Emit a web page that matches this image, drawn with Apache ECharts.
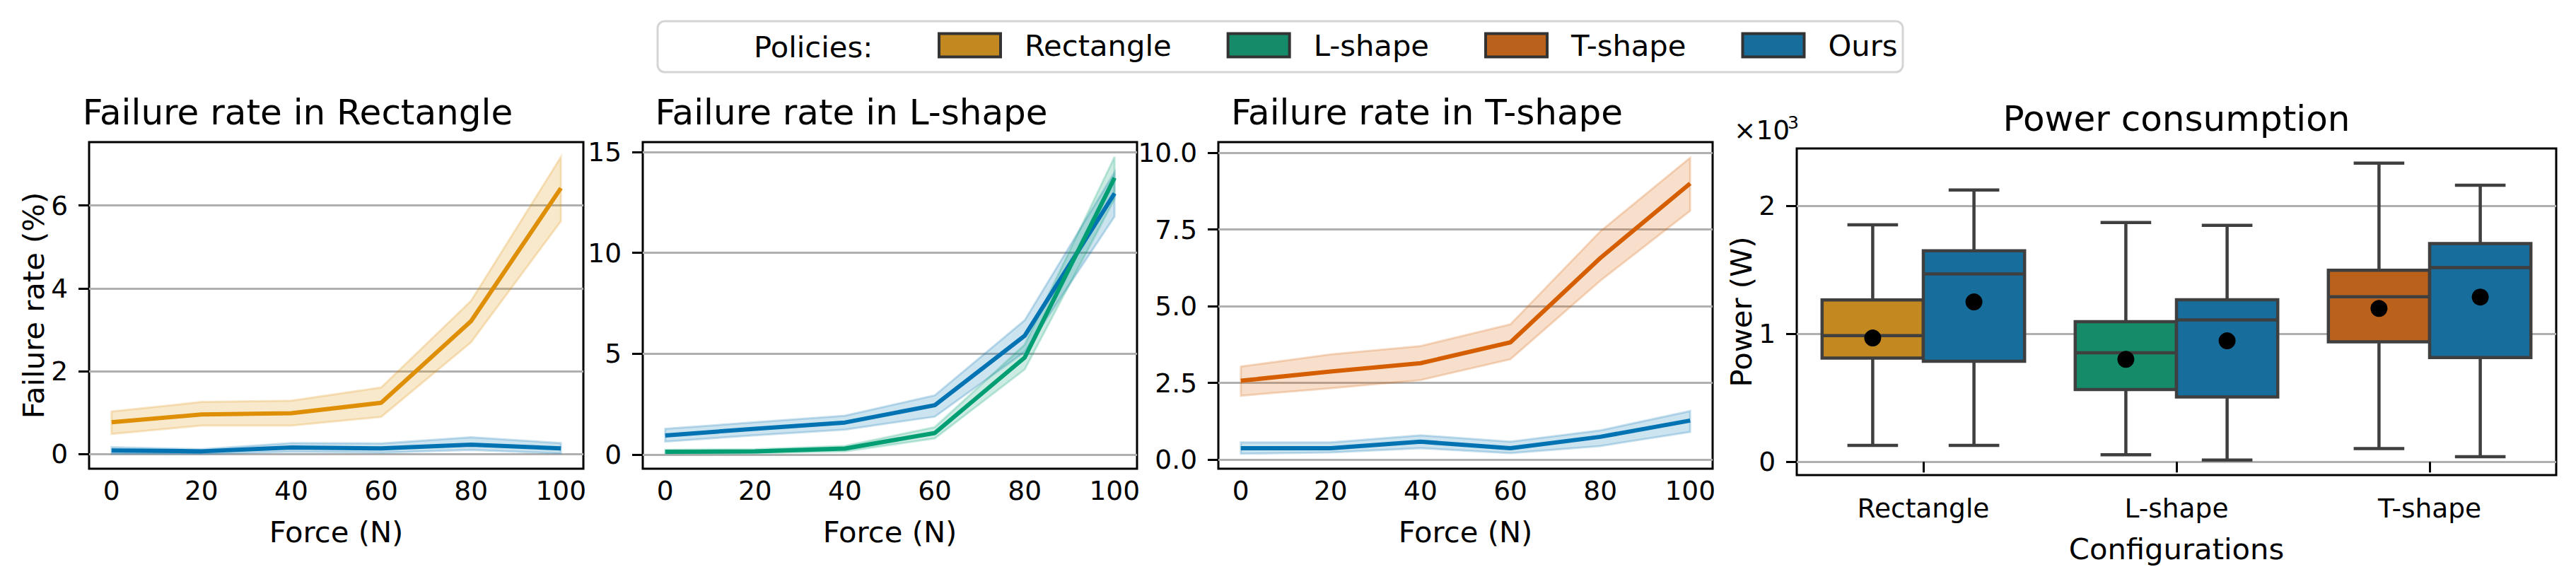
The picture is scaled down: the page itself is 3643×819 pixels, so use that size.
<!DOCTYPE html>
<html>
<head>
<meta charset="utf-8">
<title>Failure rate and power consumption</title>
<script src="https://cdn.jsdelivr.net/npm/echarts@6/dist/echarts.min.js"></script>
<style>
  html, body { margin: 0; padding: 0; background: #fff; }
  #chart { width: 3643px; height: 819px; }
</style>
</head>
<body>
<div id="chart"></div>
<script>
// x values and tick labels (force, N)
var force = [0, 20, 40, 60, 80, 100];

// Failure rate in Rectangle (%)
var rectBaseMean = [0.77, 0.96, 0.99, 1.24, 3.21, 6.42];
var rectBaseLo   = [0.49, 0.69, 0.69, 0.90, 2.70, 5.62];
var rectBaseHi   = [1.03, 1.26, 1.29, 1.61, 3.70, 7.17];
var rectOursMean = [0.09, 0.07, 0.16, 0.14, 0.23, 0.14];
var rectOursLo   = [0.01, 0.01, 0.06, 0.04, 0.10, 0.02];
var rectOursHi   = [0.17, 0.12, 0.27, 0.26, 0.41, 0.27];

// Failure rate in L-shape (%)
var lBaseMean = [0.14, 0.16, 0.30, 1.07, 4.81, 13.72];
var lBaseLo   = [0.05, 0.07, 0.16, 0.80, 4.22, 12.67];
var lBaseHi   = [0.24, 0.26, 0.43, 1.36, 5.45, 14.76];
var lOursMean = [0.95, 1.28, 1.59, 2.45, 5.89, 12.95];
var lOursLo   = [0.64, 0.96, 1.24, 1.88, 5.09, 11.80];
var lOursHi   = [1.28, 1.60, 1.93, 2.94, 6.66, 14.00];

// Failure rate in T-shape (%)
var tBaseMean = [2.57, 2.87, 3.14, 3.82, 6.57, 9.00];
var tBaseLo   = [2.08, 2.32, 2.59, 3.27, 5.83, 8.11];
var tBaseHi   = [3.03, 3.43, 3.70, 4.41, 7.44, 9.84];
var tOursMean = [0.37, 0.37, 0.58, 0.37, 0.74, 1.27];
var tOursLo   = [0.19, 0.23, 0.37, 0.21, 0.44, 0.90];
var tOursHi   = [0.56, 0.56, 0.79, 0.58, 0.95, 1.58];

// y tick labels
var rectTicks = [0, 2, 4, 6];
var lTicks = [0, 5, 10, 15];
var tTicks = [0, 2.5, 5, 7.5, 10];
var powerTicks = [0, 1000, 2000];

// Power consumption (W): [min, q1, median, q3, max]
var configs = ['Rectangle', 'L-shape', 'T-shape'];
var powerBase = [[129, 811, 986, 1265, 1853], [56, 565, 852, 1095, 1871], [104, 938, 1290, 1498, 2335]];
var powerOurs = [[129, 786, 1468, 1650, 2124], [15, 507, 1110, 1267, 1848], [41, 816, 1518, 1706, 2162]];
var powerBaseMean = [968, 801, 1199];
var powerOursMean = [1250, 946, 1288];

var FONT = 'DejaVu Sans';
var lineCol = { Rectangle: '#de8f05', 'L-shape': '#029e73', 'T-shape': '#d55e00', Ours: '#0173b2' };
var bandCol = { Rectangle: 'rgba(222,143,5,', 'L-shape': 'rgba(2,158,115,', 'T-shape': 'rgba(213,94,0,', Ours: 'rgba(1,115,178,' };
var boxCol = { Rectangle: '#c38820', 'L-shape': '#168b6a', 'T-shape': '#ba611b', Ours: '#176d9c' };
var edge = '#3f3f3f';

function pairs(ys) { return force.map(function (x, i) { return [x, ys[i]]; }); }

// confidence band drawn as one polygon through the axis scales
function bandItem(fill, stroke) {
  return function (params, api) {
    if (params.dataIndexInside !== 0) return null;
    var n = params.dataInsideLength, top = [], bot = [];
    for (var j = 0; j < n; j++) {
      top.push(api.coord([api.value(0, j), api.value(2, j)]));
      bot.unshift(api.coord([api.value(0, j), api.value(1, j)]));
    }
    return { type: 'polygon', shape: { points: top.concat(bot) }, style: { fill: fill, stroke: stroke, lineWidth: 3 } };
  };
}

function lineGroup(g, name, mean, lo, hi) {
  var c = bandCol[name];
  return [
    { type: 'custom', xAxisIndex: g, yAxisIndex: g, silent: true, z: 2,
      renderItem: bandItem(c + '0.2)', c + '0.22)'),
      data: force.map(function (x, i) { return [x, lo[i], hi[i]]; }) },
    { type: 'line', name: name, xAxisIndex: g, yAxisIndex: g, data: pairs(mean),
      symbol: 'none', lineStyle: { color: lineCol[name], width: 6 }, itemStyle: { color: lineCol[name] }, z: 3 }
  ];
}

var grids = [
  { left: 126, top: 201, width: 699, height: 462 },
  { left: 909, top: 201, width: 699, height: 462 },
  { left: 1723, top: 201, width: 699, height: 462 },
  { left: 2541, top: 210, width: 1074, height: 462 }
];
grids.forEach(function (g) { g.show = true; g.borderColor = '#000'; g.borderWidth = 3; g.backgroundColor = 'transparent'; });

var tickText = { color: '#000', fontFamily: FONT, fontSize: 37.5 };
function forceAxis(g) {
  return {
    type: 'value', gridIndex: g, min: -5, max: 105,
    name: 'Force (N)', nameLocation: 'middle', nameGap: 68,
    nameTextStyle: { color: '#000', fontFamily: FONT, fontSize: 41.7 },
    axisLine: { show: false, onZero: false },
    axisTick: { show: false, customValues: force },
    axisLabel: Object.assign({ customValues: force, margin: 12 }, tickText),
    splitLine: { show: false }
  };
}
function rateAxis(g, min, max, ticks, fmt, name) {
  return {
    type: 'value', gridIndex: g, min: min, max: max,
    name: name || '', nameLocation: 'middle', nameGap: 58,
    nameTextStyle: { color: '#000', fontFamily: FONT, fontSize: 41.7 },
    axisLine: { show: false, onZero: false },
    axisTick: { show: true, length: 15, customValues: ticks, lineStyle: { color: '#000', width: 3 } },
    axisLabel: Object.assign({ customValues: ticks, margin: 30, formatter: fmt }, tickText),
    splitLine: { show: true, lineStyle: { color: '#b0b0b0', width: 3 } }
  };
}

function boxItem(side, fills) {
  return function (params, api) {
    var i = api.value(0);
    var band = api.size([1, 0])[0];
    var cx = api.coord([i, 0])[0] + side * band * 0.2;
    var hw = band * 0.2, cw = band * 0.1;
    function y(k) { return api.coord([i, api.value(k)])[1]; }
    var lo = y(1), q1 = y(2), md = y(3), q3 = y(4), hi = y(5), mn = y(6);
    var ln = { stroke: edge, lineWidth: 4.5 };
    return {
      type: 'group', children: [
        { type: 'line', shape: { x1: cx, y1: q3, x2: cx, y2: hi }, style: ln },
        { type: 'line', shape: { x1: cx, y1: q1, x2: cx, y2: lo }, style: ln },
        { type: 'line', shape: { x1: cx - cw, y1: hi, x2: cx + cw, y2: hi }, style: ln },
        { type: 'line', shape: { x1: cx - cw, y1: lo, x2: cx + cw, y2: lo }, style: ln },
        { type: 'rect', shape: { x: cx - hw, y: q3, width: 2 * hw, height: q1 - q3 }, style: { fill: fills[i], stroke: edge, lineWidth: 4.5 } },
        { type: 'line', shape: { x1: cx - hw, y1: md, x2: cx + hw, y2: md }, style: ln },
        { type: 'circle', shape: { cx: cx, cy: mn, r: 12 }, style: { fill: '#000' } }
      ]
    };
  };
}

var series = []
  .concat(lineGroup(0, 'Rectangle', rectBaseMean, rectBaseLo, rectBaseHi))
  .concat(lineGroup(0, 'Ours', rectOursMean, rectOursLo, rectOursHi))
  .concat(lineGroup(1, 'Ours', lOursMean, lOursLo, lOursHi))
  .concat(lineGroup(1, 'L-shape', lBaseMean, lBaseLo, lBaseHi))
  .concat(lineGroup(2, 'T-shape', tBaseMean, tBaseLo, tBaseHi))
  .concat(lineGroup(2, 'Ours', tOursMean, tOursLo, tOursHi));

series.push({
  type: 'custom', name: 'Baseline power', xAxisIndex: 3, yAxisIndex: 3, z: 3,
  renderItem: boxItem(-1, configs.map(function (c) { return boxCol[c]; })),
  data: configs.map(function (c, i) { return [i].concat(powerBase[i], [powerBaseMean[i]]); })
});
series.push({
  type: 'custom', name: 'Ours power', xAxisIndex: 3, yAxisIndex: 3, z: 3,
  renderItem: boxItem(1, configs.map(function () { return boxCol.Ours; })),
  data: configs.map(function (c, i) { return [i].concat(powerOurs[i], [powerOursMean[i]]); })
});

var chart = echarts.init(document.getElementById('chart'), null, { renderer: 'svg' });
chart.setOption({
  backgroundColor: '#fff',
  animation: false,
  grid: grids,
  xAxis: [
    forceAxis(0), forceAxis(1), forceAxis(2),
    {
      type: 'category', gridIndex: 3, data: configs,
      name: 'Configurations', nameLocation: 'middle', nameGap: 83,
      nameTextStyle: { color: '#000', fontFamily: FONT, fontSize: 41.7 },
      axisLine: { show: false },
      axisTick: { show: true, alignWithLabel: true, length: 15, lineStyle: { color: '#000', width: 3 } },
      axisLabel: Object.assign({ margin: 28 }, tickText),
      splitLine: { show: false }
    }
  ],
  yAxis: [
    rateAxis(0, -0.35, 7.53, rectTicks, function (v) { return String(v); }, 'Failure rate (%)'),
    rateAxis(1, -0.70, 15.49, lTicks, function (v) { return String(v); }),
    rateAxis(2, -0.30, 10.35, tTicks, function (v) { return v.toFixed(1); }),
    rateAxis(3, -103, 2449, powerTicks, function (v) { return String(v / 1000); }, 'Power (W)')
  ],
  legend: {
    left: 1326, top: 43, padding: 0, z: 10,
    selectedMode: false, icon: 'rect', itemWidth: 87, itemHeight: 33, itemGap: 78,
    textStyle: { color: '#000', fontFamily: FONT, fontSize: 41.7, padding: [0, 0, 0, 29] },
    data: ['Rectangle', 'L-shape', 'T-shape', 'Ours'].map(function (n) {
      return { name: n, itemStyle: { color: boxCol[n], borderColor: '#333', borderWidth: 4 } };
    })
  },
  graphic: [
    { type: 'rect', z: 0, shape: { x: 930, y: 30, width: 1761, height: 72, r: 10 },
      style: { fill: '#fff', stroke: '#d5d5d5', lineWidth: 3 } },
    { type: 'text', z: 1, x: 1066, y: 66, style: { text: 'Policies:', fontFamily: FONT, fontSize: 41.7, fill: '#000', align: 'left', verticalAlign: 'middle' } },
    { type: 'text', x: 421, y: 159, style: { text: 'Failure rate in Rectangle', fontFamily: FONT, fontSize: 50, fill: '#000', align: 'center', verticalAlign: 'middle' } },
    { type: 'text', x: 1204, y: 159, style: { text: 'Failure rate in L-shape', fontFamily: FONT, fontSize: 50, fill: '#000', align: 'center', verticalAlign: 'middle' } },
    { type: 'text', x: 2018, y: 159, style: { text: 'Failure rate in T-shape', fontFamily: FONT, fontSize: 50, fill: '#000', align: 'center', verticalAlign: 'middle' } },
    { type: 'text', x: 3078, y: 168, style: { text: 'Power consumption', fontFamily: FONT, fontSize: 50, fill: '#000', align: 'center', verticalAlign: 'middle' } },
    { type: 'text', x: 2452, y: 184, style: { text: '×10', fontFamily: FONT, fontSize: 37.5, fill: '#000', align: 'left', verticalAlign: 'middle' } },
    { type: 'text', x: 2528, y: 173, style: { text: '3', fontFamily: FONT, fontSize: 25, fill: '#000', align: 'left', verticalAlign: 'middle' } }
  ],
  series: series
});
</script>
</body>
</html>
